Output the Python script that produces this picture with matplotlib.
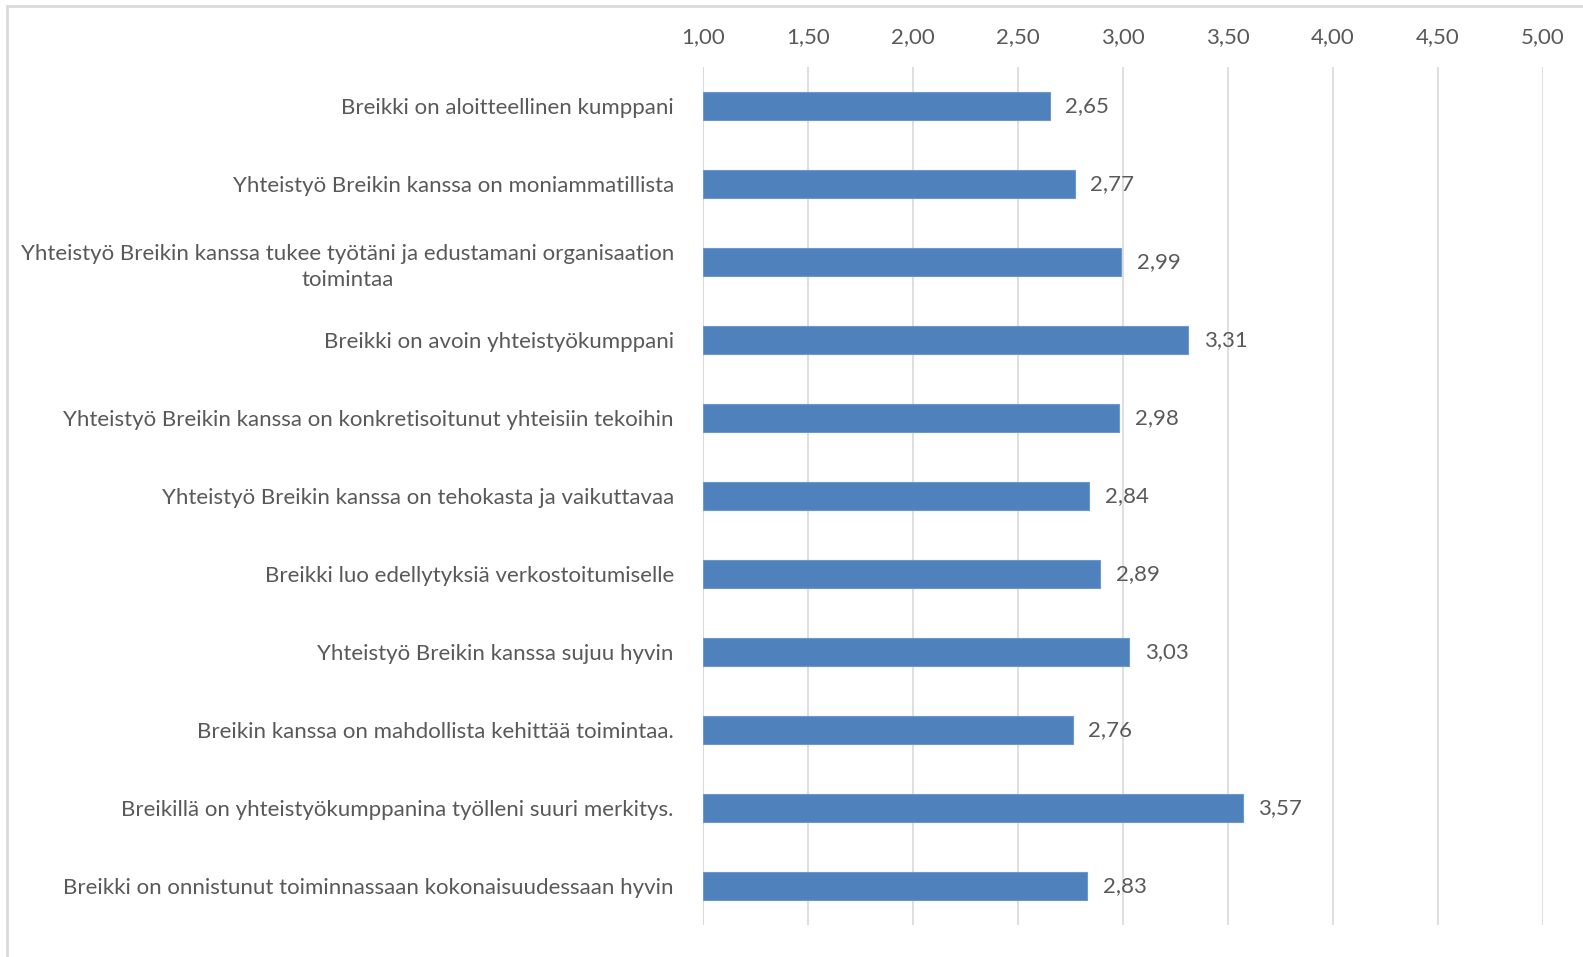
import matplotlib
matplotlib.use("Agg")
import matplotlib.pyplot as plt
from matplotlib.patches import Rectangle

# ── data ──
labels = [
    "Breikki on aloitteellinen kumppani",
    "Yhteistyö Breikin kanssa on moniammatillista",
    "Yhteistyö Breikin kanssa tukee työtäni ja edustamani organisaation\ntoimintaa",
    "Breikki on avoin yhteistyökumppani",
    "Yhteistyö Breikin kanssa on konkretisoitunut yhteisiin tekoihin",
    "Yhteistyö Breikin kanssa on tehokasta ja vaikuttavaa",
    "Breikki luo edellytyksiä verkostoitumiselle",
    "Yhteistyö Breikin kanssa sujuu hyvin",
    "Breikin kanssa on mahdollista kehittää toimintaa.",
    "Breikillä on yhteistyökumppanina työlleni suuri merkitys.",
    "Breikki on onnistunut toiminnassaan kokonaisuudessaan hyvin",
]
values = [2.65, 2.77, 2.99, 3.31, 2.98, 2.84, 2.89, 3.03, 2.76, 3.57, 2.83]
ticks = [1.0, 1.5, 2.0, 2.5, 3.0, 3.5, 4.0, 4.5, 5.0]

plt.rcParams["font.family"] = ["Lato", "DejaVu Sans"]
txt = "#595959"
fs = 16

fig = plt.figure(figsize=(15.83, 9.57), dpi=100, facecolor="white")
ax = fig.add_axes([703 / 1583, 1 - 925 / 957, 840 / 1583, 858 / 957])

y = list(range(len(labels)))
ax.barh(y, [v - 1 for v in values], left=1, height=0.36,
        color="#4F81BD", edgecolor="#6d98cc", linewidth=0.8, zorder=3)
for yi, v in zip(y, values):
    ax.text(v + 0.075, yi, f"{v:.2f}".replace(".", ","), va="center", ha="left",
            fontsize=fs, color=txt, zorder=4)

ax.set_xlim(1, 5)
ax.set_ylim(len(labels) - 0.5, -0.5)
ax.set_xticks(ticks)
ax.set_xticklabels([f"{t:.2f}".replace(".", ",") for t in ticks], fontsize=fs, color=txt)
ax.xaxis.tick_top()
ax.tick_params(axis="x", length=0, pad=14)
ax.set_yticks(y)
ax.set_yticklabels(labels, fontsize=fs, color=txt, multialignment="center",
                   linespacing=1.35)
ax.tick_params(axis="y", length=0, pad=21)
ax.grid(axis="x", color="#D9D9D9", linewidth=1.2, zorder=0)
for s in ax.spines.values():
    s.set_visible(False)
ax.axvline(1, color="#D9D9D9", linewidth=1.2, zorder=1)

# chart frame (cut off at right and bottom)
fig.patches.append(Rectangle((7 / 1583, -0.05), 1.1, 1 - 6 / 957 + 0.05,
                             transform=fig.transFigure, fill=False,
                             edgecolor="#D9D9D9", linewidth=2))

fig.savefig("out.png", dpi=100, facecolor="white")
